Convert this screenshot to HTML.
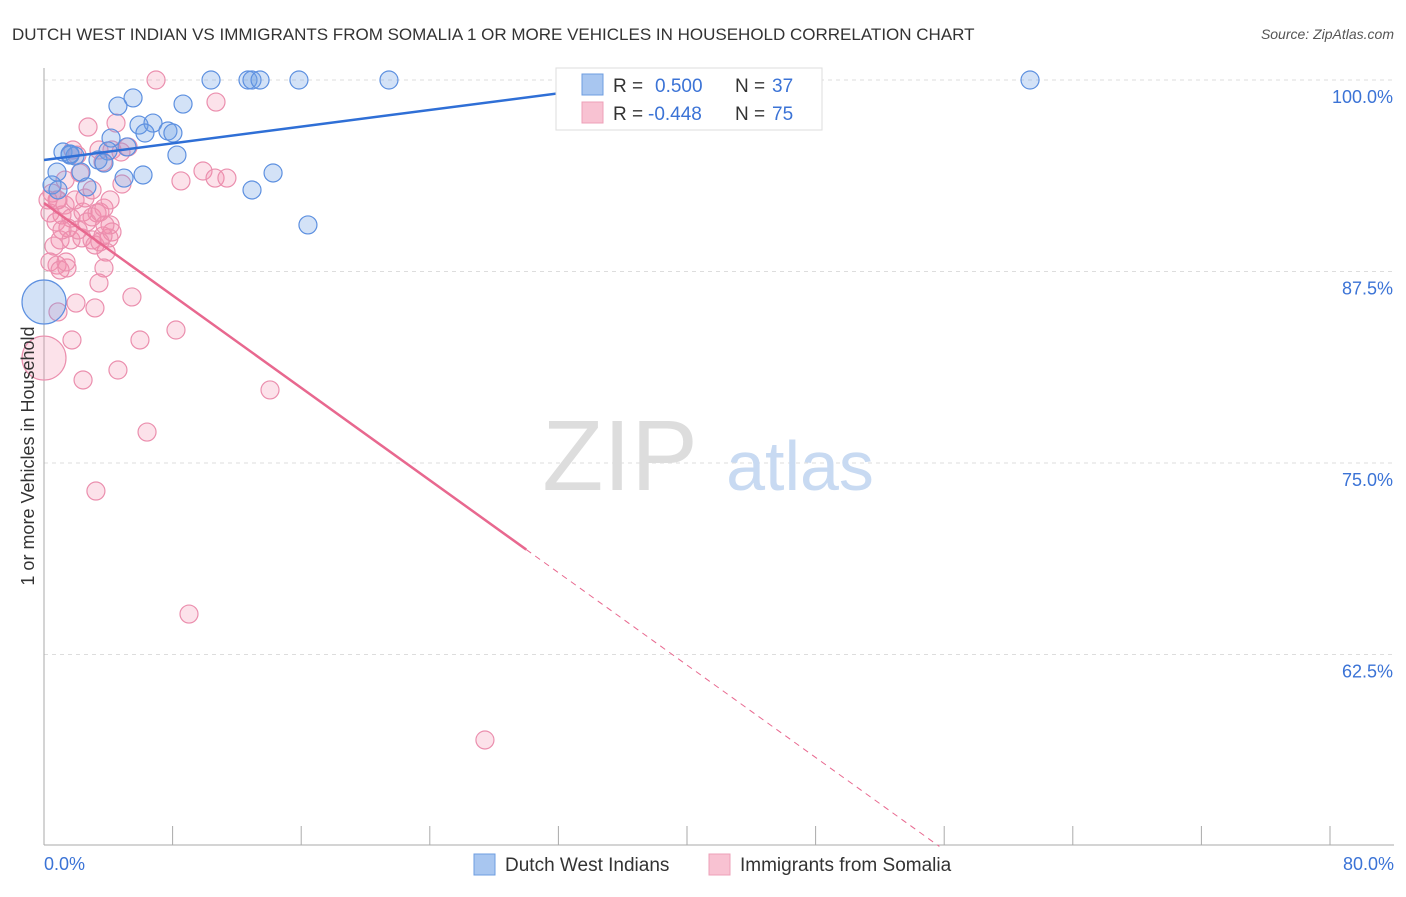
<!DOCTYPE html>
<html><head><meta charset="utf-8"><style>
body{margin:0;background:#fff;font-family:"Liberation Sans",sans-serif;}
svg text{font-family:"Liberation Sans",sans-serif;}
</style></head><body>
<svg width="1406" height="892" xmlns="http://www.w3.org/2000/svg">
<text x="12" y="40" font-size="17" fill="#333">DUTCH WEST INDIAN VS IMMIGRANTS FROM SOMALIA 1 OR MORE VEHICLES IN HOUSEHOLD CORRELATION CHART</text>
<text x="1394" y="39" font-size="14" fill="#555" font-style="italic" text-anchor="end">Source: ZipAtlas.com</text>
<g id="grid"></g>
<text x="620" y="490" font-size="100" fill="#ddd" font-family="Liberation Serif" text-anchor="middle">ZIP</text>
<text x="800" y="490" font-size="70" fill="#c8daf2" text-anchor="middle">atlas</text>
<g id="marks"></g>
<text transform="translate(34,456) rotate(-90)" font-size="18" fill="#333" text-anchor="middle">1 or more Vehicles in Household</text>
<text x="44" y="870" font-size="18" fill="#3b73d6">0.0%</text>
<text x="1394" y="870" font-size="18" fill="#3b73d6" text-anchor="end">80.0%</text>
<g>
<rect x="556" y="68" width="266" height="62" fill="#fff" stroke="#ddd"/>
<rect x="582" y="74" width="21" height="21" fill="#a8c6f0" stroke="#6e9de0"/>
<rect x="582" y="102" width="21" height="21" fill="#f8c2d2" stroke="#eea0b8"/>
<text x="613" y="92" font-size="19" fill="#333">R = </text><text x="655" y="92" font-size="19" fill="#3b73d6">0.500</text>
<text x="735" y="92" font-size="19" fill="#333">N = </text><text x="772" y="92" font-size="19" fill="#3b73d6">37</text>
<text x="613" y="120" font-size="19" fill="#333">R = </text><text x="648" y="120" font-size="19" fill="#3b73d6">-0.448</text>
<text x="735" y="120" font-size="19" fill="#333">N = </text><text x="772" y="120" font-size="19" fill="#3b73d6">75</text>
</g>
<g>
<rect x="474" y="854" width="21" height="21" fill="#a8c6f0" stroke="#6e9de0"/>
<text x="505" y="871" font-size="19" fill="#333">Dutch West Indians</text>
<rect x="709" y="854" width="21" height="21" fill="#f8c2d2" stroke="#eea0b8"/>
<text x="740" y="871" font-size="19" fill="#333">Immigrants from Somalia</text>
</g>
</svg>
<script>
const yTicks=[100,87.5,75,62.5];
const yTickLabels=["100.0%","87.5%","75.0%","62.5%"];
const xTicks=[0,8,16,24,32,40,48,56,64,72,80];
const bluePx=[[211,80],[248,80],[252,80],[260,80],[299,80],[389,80],[1030,80],[600,80],[118,106],[133,98],[183,104],[139,125],[153,123],[145,133],[168,131],[173,133],[177,155],[111,138],[63,152],[70,155],[75,156],[108,151],[127,147],[98,160],[104,163],[81,172],[57,172],[52,185],[87,187],[124,178],[143,175],[252,190],[273,173],[308,225],[58,190],[44,302],[70,154]];
const pinkPx=[[156,80],[216,102],[88,127],[116,123],[128,147],[99,150],[121,152],[73,150],[77,155],[103,162],[80,173],[181,181],[203,171],[215,178],[227,178],[122,184],[52,193],[57,200],[65,205],[50,213],[62,215],[71,218],[83,212],[92,217],[97,213],[100,212],[104,208],[56,222],[68,228],[87,222],[110,225],[112,232],[109,238],[103,236],[82,238],[92,240],[60,240],[71,240],[106,252],[50,262],[57,265],[67,268],[104,268],[99,283],[132,297],[76,303],[95,308],[58,312],[72,340],[140,340],[176,330],[83,380],[118,370],[270,390],[147,432],[96,491],[189,614],[485,740],[44,358],[58,200],[112,150],[48,200],[60,270],[66,262],[95,245],[85,198],[110,200],[78,230],[54,246],[92,190],[65,180],[105,225],[75,200],[62,230],[100,242]];
// data arrays (x %, y %)
const blueX=bluePx.map(p=>+((p[0]-44)/16.075).toFixed(2));
const blueY=bluePx.map(p=>+(100-(p[1]-80)/15.32).toFixed(2));
const pinkX=pinkPx.map(p=>+((p[0]-44)/16.075).toFixed(2));
const pinkY=pinkPx.map(p=>+(100-(p[1]-80)/15.32).toFixed(2));
const blueBig=[35];const pinkBig=[58];
const blueFit=[94.78,0.136];const pinkFit=[91.97,-0.754];
const X=v=>44+v*16.075, Y=v=>80+(100-v)*15.32;
const NS="http://www.w3.org/2000/svg";
const grid=document.getElementById('grid'),marks=document.getElementById('marks');
function mk(tag,at,par){const e=document.createElementNS(NS,tag);for(const k in at)e.setAttribute(k,at[k]);par.appendChild(e);return e;}
yTicks.forEach((t,i)=>{
 const l=mk('line',{x1:44,x2:1394,y1:Y(t),y2:Y(t),stroke:'#ddd','stroke-dasharray':'4,4'},grid);
 
 
 const tx=mk('text',{x:1393,y:Y(t)+23,'font-size':18,fill:'#3b73d6','text-anchor':'end'},grid);tx.textContent=yTickLabels[i];
 
 
});
const ax=mk('line',{x1:44,x2:1394,y1:845,y2:845,stroke:'#aaa'},grid);


const ay=mk('line',{x1:44,x2:44,y1:68,y2:845,stroke:'#aaa'},grid);


xTicks.forEach(t=>{const l=mk('line',{x1:X(t),x2:X(t),y1:826,y2:845,stroke:'#aaa'},grid);
 
 });
function pts(xs,ys,big,fill,stroke,name){xs.forEach((x,i)=>{
 const c=mk('circle',{cx:X(x),cy:Y(ys[i]),r:big.includes(i)?22:9,fill:fill,stroke:stroke,'stroke-width':1.2},marks);
 
 });}
pts(pinkX,pinkY,pinkBig,'rgba(242,140,170,0.25)','#eb8fae','somalia-point');
pts(blueX,blueY,blueBig,'rgba(110,160,230,0.3)','#5d90e0','dutch-west-indian-point');
const bl=mk('line',{x1:X(0),y1:Y(blueFit[0]),x2:X(38),y2:Y(blueFit[0]+blueFit[1]*38),stroke:'#2f6fd6','stroke-width':2.5},marks);


const pl=mk('line',{x1:X(0),y1:Y(pinkFit[0]),x2:X(30),y2:Y(pinkFit[0]+pinkFit[1]*30),stroke:'#e8688f','stroke-width':2.5},marks);


const pd=mk('line',{x1:X(30),y1:Y(pinkFit[0]+pinkFit[1]*30),x2:X(55.7),y2:Y(pinkFit[0]+pinkFit[1]*55.7),stroke:'#e8688f','stroke-width':1,'stroke-dasharray':'6,5'},marks);


</script>
</body></html>
